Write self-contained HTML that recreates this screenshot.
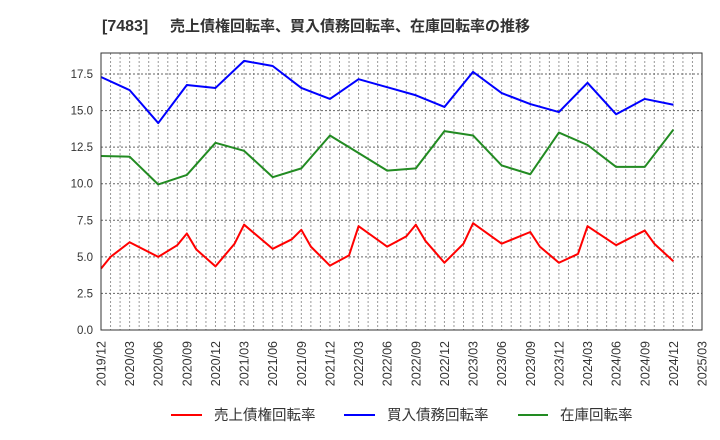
<!DOCTYPE html>
<html><head><meta charset="utf-8"><style>
body{margin:0;background:#fff;}
svg{display:block;font-family:"Liberation Sans","Noto Sans CJK JP",sans-serif;}
</style></head><body>
<svg id="chart" width="720" height="440">
<text x="102" y="31" font-size="16" font-weight="bold" fill="#333">[7483]</text>
<text x="170" y="31" font-size="15" font-weight="bold" fill="#333">売上債権回転率、買入債務回転率、在庫回転率の推移</text>
<g id="grid"></g>
<g id="lines"></g>
<rect x="101" y="53" width="601" height="277" fill="none" stroke="#333" stroke-width="1"/>
<g id="axes"></g>
<g font-size="14.5" fill="#333">
<line x1="171" y1="415" x2="202" y2="415" stroke="#ff0000" stroke-width="2"/>
<text x="214" y="420">売上債権回転率</text>
<line x1="344" y1="415" x2="375" y2="415" stroke="#0000ff" stroke-width="2"/>
<text x="387" y="420">買入債務回転率</text>
<line x1="518" y1="415" x2="548" y2="415" stroke="#228b22" stroke-width="2"/>
<text x="560" y="420">在庫回転率</text>
</g>
</svg>
<script>
const xLabels=["2019/12","2020/03","2020/06","2020/09","2020/12","2021/03","2021/06","2021/09","2021/12","2022/03","2022/06","2022/09","2022/12","2023/03","2023/06","2023/09","2023/12","2024/03","2024/06","2024/09","2024/12","2025/03"];
const yTicks=[0,2.5,5,7.5,10,12.5,15,17.5];
const blueVals=[17.3,16.4,14.15,16.75,16.55,18.4,18.05,16.55,15.8,17.15,16.6,16.05,15.25,17.65,16.2,15.45,14.9,16.9,14.75,15.8,15.4];
const greenVals=[11.9,11.85,9.95,10.6,12.8,12.25,10.45,11.05,13.3,12.1,10.9,11.05,13.6,13.3,11.25,10.65,13.5,12.65,11.15,11.15,13.7];
const redMonths=[0,1,3,6,8,9,10,12,14,15,18,20,21,22,24,26,27,30,32,33,34,36,38,39,42,45,46,48,50,51,54,57,58,60];
const redVals=[4.2,5.0,6.0,5.0,5.8,6.6,5.5,4.35,5.9,7.2,5.55,6.2,6.85,5.7,4.4,5.1,7.1,5.7,6.4,7.2,6.1,4.6,5.9,7.3,5.9,6.7,5.7,4.6,5.2,7.1,5.8,6.8,5.9,4.7];
const X0=101,X1=702,Y0=330,YT=53,YMAX=18.94,NM=63;
const xs=m=>X0+(X1-X0)*m/NM;
const ys=v=>Y0-(Y0-YT)*v/YMAX;
const NS="http://www.w3.org/2000/svg";
function mk(tag,attrs,parent){const e=document.createElementNS(NS,tag);for(const k in attrs)e.setAttribute(k,attrs[k]);parent.appendChild(e);return e;}
const grid=document.getElementById('grid'),lines=document.getElementById('lines'),axes=document.getElementById('axes');
for(let m=1;m<NM;m++){const l=mk('line',{x1:xs(m),x2:xs(m),y1:YT,y2:Y0,stroke:'#999','stroke-width':1,'stroke-dasharray':'2,2'},grid);

}
yTicks.forEach(v=>{if(v>0){const l=mk('line',{x1:X0,x2:X1,y1:ys(v),y2:ys(v),stroke:'#666','stroke-width':1,'stroke-dasharray':'2,2'},grid);

}
const t=mk('text',{x:X0-8,y:ys(v)+4,'text-anchor':'end','font-size':11.5,fill:'#333'},axes);t.textContent=v.toFixed(1);

});
xLabels.forEach((s,i)=>{const x=xs(i*3);const t=mk('text',{x:0,y:0,'text-anchor':'end','font-size':12.5,fill:'#333',transform:`translate(${x+4.5},341) rotate(-90)`},axes);t.textContent=s;

});
function draw(pts,color,name){const p=mk('polyline',{points:pts.map(q=>xs(q[0])+','+ys(q[1])).join(' '),fill:'none',stroke:color,'stroke-width':2,'stroke-linejoin':'round'},lines);

}
draw(greenVals.map((v,i)=>[i*3,v]),'#228b22','inventory-turnover-line');
draw(blueVals.map((v,i)=>[i*3,v]),'#0000ff','payables-turnover-line');
draw(redMonths.map((m,i)=>[m,redVals[i]]),'#ff0000','receivables-turnover-line');
</script>
</body></html>
